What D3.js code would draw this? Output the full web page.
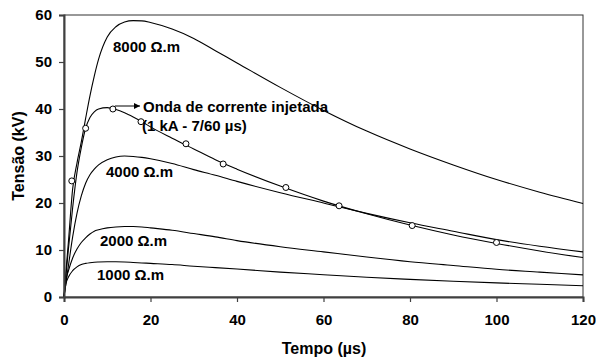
<!DOCTYPE html>
<html>
<head>
<meta charset="utf-8">
<script src="https://cdn.jsdelivr.net/npm/d3@7"></script>
<style>
  body { margin: 0; background: #fff; }
  text { font-family: "Liberation Sans", Arial, sans-serif; font-weight: bold; fill: #000; }
</style>
</head>
<body>
<svg id="chart" width="596" height="358"></svg>
<script>
// time grid (us)
const tempo = [0, 0.5, 1, 2, 3, 4, 5, 6, 7, 8, 10, 12, 14, 16, 18, 20, 25, 30, 35, 40, 50, 60, 70, 80, 90, 100, 110, 120];

// tension (kV) for each soil resistivity
const v8000 = [0, 6, 11.5, 23, 28.5, 33, 38, 42.8, 47, 50.6, 55.3, 57.5, 58.5, 58.8, 58.75, 58.4, 57, 55, 52.4, 49.8, 44.6, 39.7, 35.3, 31.5, 28.1, 25.0, 22.3, 19.9];
const v4000 = [0, 3.3, 6.5, 12.8, 17.8, 21.5, 24.2, 26, 27.2, 28.1, 29.2, 29.8, 30, 29.9, 29.7, 29.4, 28.4, 27.1, 25.9, 24.6, 22.2, 20.0, 17.8, 15.8, 14.0, 12.2, 10.8, 9.6];
const v2000 = [0, 3.8, 5.5, 8.3, 10.2, 11.6, 12.6, 13.4, 14, 14.3, 14.7, 14.9, 15, 15, 14.9, 14.7, 14.2, 13.5, 12.8, 12.0, 10.7, 9.6, 8.5, 7.5, 6.7, 5.9, 5.3, 4.7];
const v1000 = [0, 3, 4.2, 5.6, 6.4, 6.9, 7.15, 7.3, 7.4, 7.45, 7.5, 7.5, 7.45, 7.35, 7.25, 7.15, 6.9, 6.55, 6.25, 5.95, 5.3, 4.75, 4.2, 3.75, 3.35, 3.0, 2.7, 2.4];
// injected current wave (scaled, 1 kA - 7/60 us)
const vOnda = [0, 5, 10, 19, 26.5, 31.8, 35.9, 38.2, 39.4, 40, 40.3, 39.9, 39.2, 38.3, 37.3, 36.2, 33.8, 31.5, 29.2, 27.2, 23.6, 20.4, 17.7, 15.3, 13.2, 11.4, 9.8, 8.4];

// marker points on the current wave
const ondaT = [1.8, 5.0, 11.3, 17.8, 28.2, 36.8, 51.3, 63.6, 80.5, 100];
const ondaV = [24.7, 35.9, 40, 37.3, 32.6, 28.3, 23.3, 19.4, 15.2, 11.6];

const xTicks = [0, 20, 40, 60, 80, 100, 120];
const yTicks = [0, 10, 20, 30, 40, 50, 60];

const width = 596;
const height = 358;
const margin = { top: 15, right: 13, bottom: 61, left: 64 };

const svg = d3.select('#chart');

const x = d3.scaleLinear().domain([0, 120]).range([margin.left, width - margin.right]);
const y = d3.scaleLinear().domain([0, 60]).range([height - margin.bottom, margin.top]);

// frame (top / right)
svg.append('rect')
  .attr('x', x(0)).attr('y', y(60))
  .attr('width', x(120) - x(0)).attr('height', y(0) - y(60))
  .attr('fill', 'none').attr('stroke', '#333').attr('stroke-width', 1);

const line = d3.line()
  .x((d) => x(d[0]))
  .y((d) => y(d[1]))
  .curve(d3.curveMonotoneX);

const series = [v8000, v4000, v2000, v1000, vOnda];
svg.append('g')
  .selectAll('path')
  .data(series)
  .enter()
  .append('path')
  .attr('d', (vals) => line(tempo.map((t, i) => [t, vals[i]])))
  .attr('fill', 'none')
  .attr('stroke', '#000')
  .attr('stroke-width', 1.1);

// markers
svg.append('g')
  .selectAll('circle')
  .data(ondaT.map((t, i) => [t, ondaV[i]]))
  .enter()
  .append('circle')
  .attr('cx', (d) => x(d[0]))
  .attr('cy', (d) => y(d[1]))
  .attr('r', 3)
  .attr('fill', '#fff')
  .attr('stroke', '#000')
  .attr('stroke-width', 1);

// axes
const xAxis = svg.append('g')
  .attr('transform', `translate(0,${y(0)})`)
  .call(d3.axisBottom(x).tickValues(xTicks).tickSize(5).tickPadding(12));
const yAxis = svg.append('g')
  .attr('transform', `translate(${x(0)},0)`)
  .call(d3.axisLeft(y).tickValues(yTicks).tickSize(5).tickPadding(7));

[xAxis, yAxis].forEach((g) => {
  g.select('.domain').attr('stroke', '#404040').attr('stroke-width', 2);
  g.selectAll('.tick line').attr('stroke', '#404040').attr('stroke-width', 1.2);
  g.selectAll('.tick text')
    .attr('font-size', 15)
    .attr('font-family', '"Liberation Sans", Arial, sans-serif')
    .attr('font-weight', 'bold')
    .attr('fill', '#000');
});

// axis titles
svg.append('text')
  .attr('x', 324).attr('y', 354)
  .attr('text-anchor', 'middle')
  .attr('font-size', 16)
  .text('Tempo (\u00b5s)');

svg.append('text')
  .attr('transform', 'translate(24,156) rotate(-90)')
  .attr('text-anchor', 'middle')
  .attr('font-size', 16)
  .text('Tensão (kV)');

// curve labels
const labels = [
  { text: '8000 \u03a9.m', x: 113, y: 51.5 },
  { text: '4000 \u03a9.m', x: 106, y: 176.5 },
  { text: '2000 \u03a9.m', x: 100, y: 245.5 },
  { text: '1000 \u03a9.m', x: 97, y: 280 },
  { text: 'Onda de corrente injetada', x: 143, y: 112 },
  { text: '(1 kA - 7/60 \u00b5s)', x: 142, y: 131 },
];
svg.append('g')
  .selectAll('text')
  .data(labels)
  .enter()
  .append('text')
  .attr('x', (d) => d.x)
  .attr('y', (d) => d.y)
  .attr('font-size', 15)
  .text((d) => d.text);

// arrow pointing to the current wave label
svg.append('defs').append('marker')
  .attr('id', 'arrow')
  .attr('viewBox', '0 0 10 10')
  .attr('refX', 10).attr('refY', 5)
  .attr('markerWidth', 6).attr('markerHeight', 6)
  .attr('markerUnits', 'userSpaceOnUse')
  .attr('orient', 'auto')
  .append('path')
  .attr('d', 'M0,0 L10,5 L0,10 Z')
  .attr('fill', '#000');

svg.append('line')
  .attr('x1', x(11.3) + 2).attr('y1', y(40) - 3)
  .attr('x2', 140).attr('y2', y(40) - 3)
  .attr('stroke', '#000').attr('stroke-width', 1)
  .attr('marker-end', 'url(#arrow)');
</script>
</body>
</html>
